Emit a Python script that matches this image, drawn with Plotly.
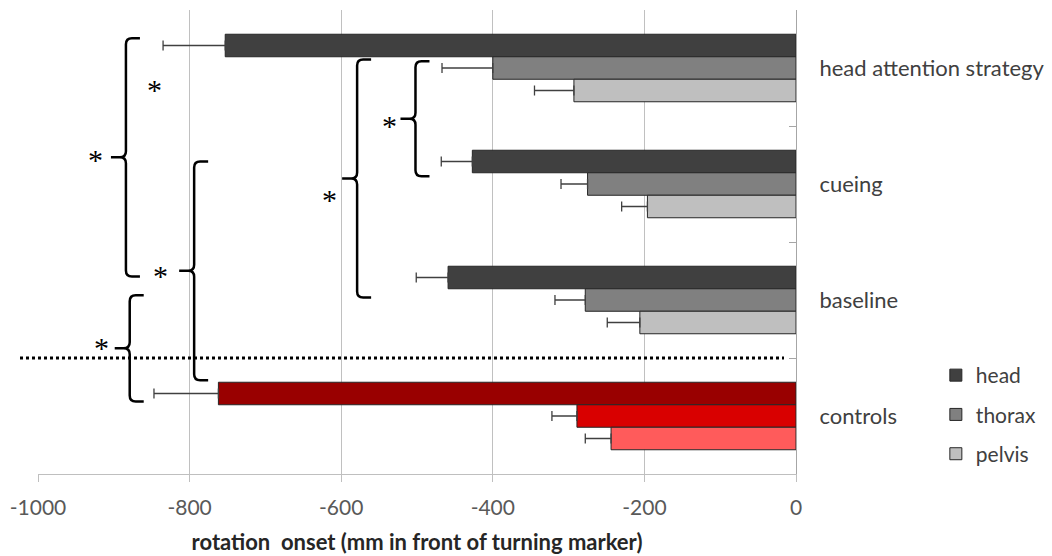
import plotly.graph_objects as go

# ---- data ----
categories = ["head attention strategy", "cueing", "baseline", "controls"]
segments = ["head", "thorax", "pelvis"]
head_mean = [-753, -427, -459, -762]
head_err = [82, 41, 42, 85]
thorax_mean = [-400, -275, -278, -289]
thorax_err = [67, 35, 40, 33]
pelvis_mean = [-293, -196, -206, -244]
pelvis_err = [52, 34, 43, 34]
gray_colors = ["#404040", "#808080", "#bfbfbf"]
red_colors = ["#990000", "#d90000", "#ff5b5b"]
x_ticks = [-1000, -800, -600, -400, -200, 0]

# significance brackets: (x in mm, top category position, bottom category position)
braces = [(-884, -0.257, 1.797), (-794, 0.806, 2.691), (-879, 1.959, 2.875),
          (-579, -0.073, 1.978), (-502, -0.059, 0.933)]
stars = [(-846, 0.168), (-924, 0.772), (-536, 0.478), (-615, 1.116),
         (-839, 1.772), (-916, 2.392)]

W, H = 1052, 556
ML, MR, MT, MB = 38, 256, 10, 82
PW, PH = W - ML - MR, H - MT - MB
XMIN, XMAX = -1000, 0

def px(v):
    return (v - XMIN) / (XMAX - XMIN)

def py(pos):
    return 1 - (pos + 0.5) / len(categories)

font = "Lato, 'Open Sans', sans-serif"

fig = go.Figure()
series = [(head_mean, head_err), (thorax_mean, thorax_err), (pelvis_mean, pelvis_err)]
for i, (name, (m, e)) in enumerate(zip(segments, series)):
    colors = [gray_colors[i]] * (len(categories) - 1) + [red_colors[i]]
    fig.add_trace(go.Bar(
        name=name, y=categories, x=m, orientation="h",
        marker=dict(color=colors, line=dict(color="#262626", width=1)),
        error_x=dict(type="data", symmetric=False, array=[0] * len(e), arrayminus=e,
                     color="#404040", thickness=1.3, width=5),
        legendgroup=name,
    ))

shapes = []
hx, tx, rx, ry = 14 / PW, 15 / PW, 6 / PW, 6 / PH
for (xv, top, bot) in braces:
    x = px(xv)
    yT, yB = py(top), py(bot)
    yM = (yT + yB) / 2
    path = (f"M{x+hx},{yT} L{x+rx},{yT} Q{x},{yT} {x},{yT-ry} "
            f"L{x},{yM+ry} Q{x},{yM} {x-rx},{yM} L{x-tx},{yM} "
            f"M{x-rx},{yM} Q{x},{yM} {x},{yM-ry} "
            f"L{x},{yB+ry} Q{x},{yB} {x+rx},{yB} L{x+hx},{yB}")
    shapes.append(dict(type="path", path=path, xref="paper", yref="paper",
                       line=dict(color="black", width=2.5)))

# dotted separator between patients and controls
shapes.append(dict(type="line", xref="paper", yref="paper",
                   x0=-18 / PW, x1=1 - 12 / PW, y0=py(2.5), y1=py(2.5),
                   line=dict(color="black", width=3, dash="dot")))

annotations = []
for (xv, pos) in stars:
    annotations.append(dict(x=px(xv), y=py(pos), xref="paper", yref="paper",
                            xanchor="center", yanchor="middle",
                            text="*", showarrow=False, yshift=-2,
                            font=dict(family="Liberation Serif, serif", size=30, color="black")))

fig.update_layout(
    width=W, height=H,
    margin=dict(l=ML, r=MR, t=MT, b=MB, pad=0, autoexpand=False),
    paper_bgcolor="white", plot_bgcolor="white",
    barmode="group", bargap=0.418, bargroupgap=0,
    shapes=shapes, annotations=annotations,
    font=dict(family=font, color="#404040"),
    legend=dict(x=1.1845, y=0.2565, xanchor="left", yanchor="top",
                traceorder="grouped", tracegroupgap=9,
                font=dict(size=21, color="#404040", family=font),
                bgcolor="rgba(0,0,0,0)"),
    xaxis=dict(range=[XMIN, XMAX], tickvals=x_ticks, ticktext=[str(v) for v in x_ticks],
               automargin=False,
               showgrid=True, gridcolor="#c0c0c0", gridwidth=1, zeroline=False,
               showline=True, linecolor="#bfbfbf", linewidth=1,
               ticks="outside", ticklen=7, tickcolor="#bfbfbf", ticklabelstandoff=8,
               tickfont=dict(size=21, color="#595959", family=font),
               title=dict(text="<b>rotation  onset (mm in front of turning marker)</b>",
                          font=dict(size=22, color="#262626", family=font), standoff=16)),
    yaxis=dict(categoryorder="array", categoryarray=categories, autorange="reversed",
               automargin=False,
               side="right", showgrid=False, showline=True, linecolor="#a6a6a6", linewidth=1,
               ticks="inside", tickson="boundaries", ticklen=7, tickcolor="#a6a6a6",
               ticklabelstandoff=18,
               tickfont=dict(size=22, color="#404040", family=font)),
)

fig.write_html("out.html")
